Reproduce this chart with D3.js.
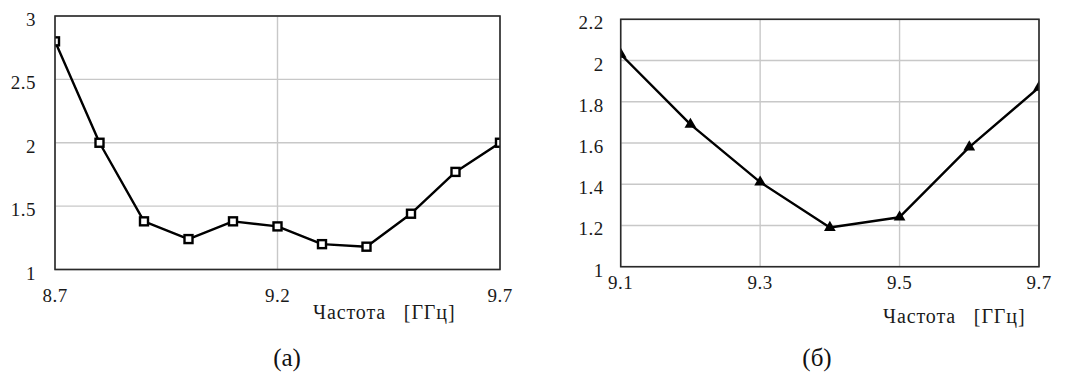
<!DOCTYPE html>
<html>
<head>
<meta charset="utf-8">
<script src="https://cdn.jsdelivr.net/npm/d3@7"></script>
<style>
  html, body { margin: 0; padding: 0; background: #fff; }
  svg { display: block; }
</style>
</head>
<body>
<svg id="chart" width="1074" height="373"></svg>
<script>
// Panel (а): frequency sweep 8.7–9.7 GHz
const freqA = [8.7, 8.8, 8.9, 9.0, 9.1, 9.2, 9.3, 9.4, 9.5, 9.6, 9.7];
const valuesA = [2.8, 2.0, 1.38, 1.24, 1.38, 1.34, 1.2, 1.18, 1.44, 1.77, 2.0];
const xTicksA = [8.7, 9.2, 9.7];
const yTicksA = [1, 1.5, 2, 2.5, 3];

// Panel (б): frequency sweep 9.1–9.7 GHz
const freqB = [9.1, 9.2, 9.3, 9.4, 9.5, 9.6, 9.7];
const valuesB = [2.03, 1.69, 1.41, 1.19, 1.24, 1.58, 1.87];
const xTicksB = [9.1, 9.3, 9.5, 9.7];
const yTicksB = [1, 1.2, 1.4, 1.6, 1.8, 2, 2.2];

const axisTitle = "Частота   [ГГц]";
const SERIF = "'Liberation Serif', 'Times New Roman', 'DejaVu Serif', serif";

const svg = d3.select("#chart");

function panel(cfg) {
  const g = svg.append("g");
  const x = d3.scaleLinear().domain(cfg.xDomain).range([cfg.left, cfg.right]);
  const y = d3.scaleLinear().domain(cfg.yDomain).range([cfg.bottom, cfg.top]);

  // grid
  g.append("g").selectAll("line").data(cfg.xTicks).join("line")
    .attr("x1", d => x(d)).attr("x2", d => x(d))
    .attr("y1", cfg.top).attr("y2", cfg.bottom)
    .attr("stroke", "#c8c8c8").attr("stroke-width", 1.4);
  g.append("g").selectAll("line").data(cfg.yTicks).join("line")
    .attr("x1", cfg.left).attr("x2", cfg.right)
    .attr("y1", d => y(d)).attr("y2", d => y(d))
    .attr("stroke", "#c8c8c8").attr("stroke-width", 1.4);

  const clipId = "clip-" + cfg.id;
  g.append("clipPath").attr("id", clipId).append("rect")
    .attr("x", cfg.left).attr("y", cfg.top)
    .attr("width", cfg.right - cfg.left).attr("height", cfg.bottom - cfg.top);

  const plot = g.append("g").attr("clip-path", `url(#${clipId})`);
  const pts = cfg.freq.map((f, i) => [f, cfg.values[i]]);
  plot.append("path").datum(pts)
    .attr("fill", "none").attr("stroke", "#000").attr("stroke-width", 2.4)
    .attr("stroke-linejoin", "round")
    .attr("d", d3.line().x(d => x(d[0])).y(d => y(d[1])));

  if (cfg.marker === "square") {
    plot.selectAll("rect").data(pts).join("rect")
      .attr("x", d => x(d[0]) - 4).attr("y", d => y(d[1]) - 4)
      .attr("width", 8).attr("height", 8)
      .attr("fill", "#fff").attr("stroke", "#000").attr("stroke-width", 2.4);
  } else {
    const tri = d3.symbol().type(d3.symbolTriangle).size(60);
    plot.selectAll("path.m").data(pts).join("path")
      .attr("class", "m")
      .attr("transform", d => `translate(${x(d[0])},${y(d[1])})`)
      .attr("d", tri).attr("fill", "#000");
  }

  // frame
  g.append("rect")
    .attr("x", cfg.left).attr("y", cfg.top)
    .attr("width", cfg.right - cfg.left).attr("height", cfg.bottom - cfg.top)
    .attr("fill", "none").attr("stroke", "#2a2a2a").attr("stroke-width", 1.6);

  // tick labels
  g.append("g").selectAll("text").data(cfg.yTicks).join("text")
    .attr("x", cfg.left - cfg.yLabelGap).attr("y", d => y(d) + 10)
    .attr("text-anchor", "end")
    .attr("font-family", SERIF).attr("font-size", 19)
    .attr("letter-spacing", 0.5).attr("fill", "#1a1a1a")
    .text(d => d);
  g.append("g").selectAll("text").data(cfg.xTicks).join("text")
    .attr("x", d => x(d)).attr("y", cfg.xLabelY)
    .attr("text-anchor", "middle")
    .attr("font-family", SERIF).attr("font-size", 19)
    .attr("letter-spacing", 0.5).attr("fill", "#1a1a1a")
    .text(d => d);

  // axis title
  g.append("text")
    .attr("x", cfg.titleX).attr("y", cfg.titleY)
    .attr("font-family", SERIF).attr("font-size", 20)
    .attr("letter-spacing", 0.9).attr("fill", "#1a1a1a")
    .style("white-space", "pre")
    .text(axisTitle);

  // caption
  g.append("text")
    .attr("x", cfg.captionX).attr("y", 366)
    .attr("text-anchor", "middle")
    .attr("font-family", SERIF).attr("font-size", 25).attr("fill", "#111")
    .text(cfg.caption);
}

panel({
  id: "a", freq: freqA, values: valuesA, xTicks: xTicksA, yTicks: yTicksA,
  xDomain: [8.7, 9.7], yDomain: [1, 3],
  left: 55, right: 500, top: 16, bottom: 269.5,
  yLabelGap: 19, xLabelY: 302, titleX: 313, titleY: 318.5,
  marker: "square", caption: "(а)", captionX: 287
});

panel({
  id: "b", freq: freqB, values: valuesB, xTicks: xTicksB, yTicks: yTicksB,
  xDomain: [9.1, 9.7], yDomain: [1, 2.2],
  left: 620.7, right: 1039, top: 19.3, bottom: 266.7,
  yLabelGap: 17, xLabelY: 288.5, titleX: 883, titleY: 322.5,
  marker: "triangle", caption: "(б)", captionX: 817
});
</script>
</body>
</html>
